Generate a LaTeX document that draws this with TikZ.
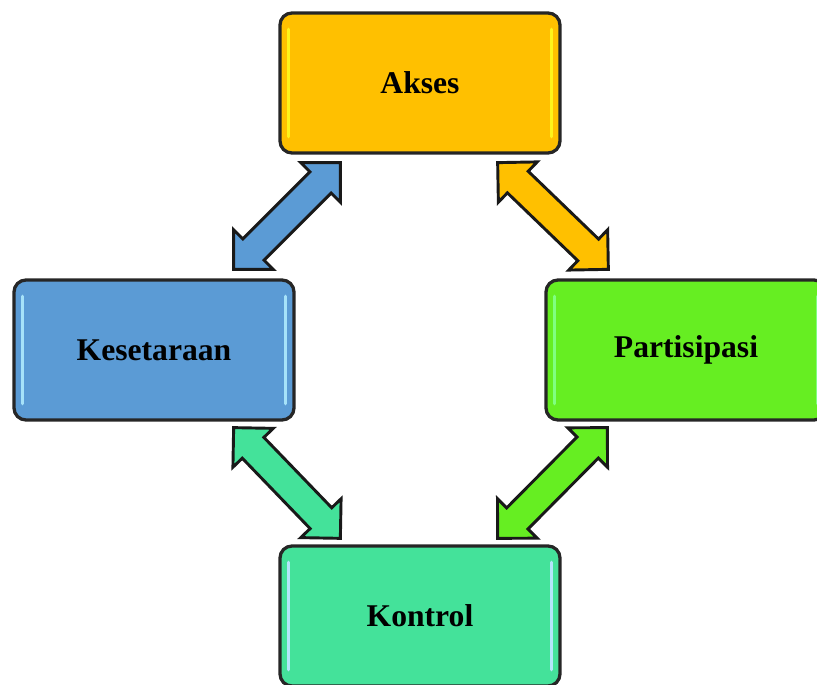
\documentclass[tikz,border=0pt]{standalone}
\usepackage{fontspec}
\setmainfont{Liberation Serif}
\usetikzlibrary{calc}

\definecolor{aksesc}{HTML}{FFC000}
\definecolor{setarac}{HTML}{5B9BD5}
\definecolor{partic}{HTML}{66EE22}
\definecolor{kontrolc}{HTML}{44E29A}

\tikzset{
  box/.style={draw=black!85, line width=2.8pt, rounded corners=0.36cm,
    minimum width=8.4cm, minimum height=4.2cm, inner sep=0pt,
    font=\fontsize{27}{31}\selectfont\bfseries},
  shine/.style={line width=3pt, line cap=round},
  arrowline/.style={draw=black!90, line width=2.5pt, line join=miter}
}

% double block arrow between two tips
\newcommand\dblarrow[3]{%
  \filldraw[arrowline, fill=#3] (#1)
    -- ($(#1)!0.84cm!(#2)!0.84cm!90:(#2)$)
    -- ($(#1)!0.84cm!(#2)!0.45cm!90:(#2)$)
    -- ($(#2)!0.84cm!(#1)!0.45cm!-90:(#1)$)
    -- ($(#2)!0.84cm!(#1)!0.84cm!-90:(#1)$)
    -- (#2)
    -- ($(#2)!0.84cm!(#1)!0.84cm!90:(#1)$)
    -- ($(#2)!0.84cm!(#1)!0.45cm!90:(#1)$)
    -- ($(#1)!0.84cm!(#2)!0.45cm!-90:(#2)$)
    -- ($(#1)!0.84cm!(#2)!0.84cm!-90:(#2)$)
    -- cycle;}

\begin{document}
\begin{tikzpicture}[x=0.03cm, y=0.03cm]
\clip (0,0) rectangle (817,685);

\node[box, fill=aksesc] (akses) at (420,602) {Akses};
\node[box, fill=setarac] (setara) at (154,335) {Kesetaraan};
\node[box, fill=partic] (parti) at (686,335) {Partisipasi};
\node[box, fill=kontrolc] (kontrol) at (420,69) {Kontrol};

% highlights on the box sides
\draw[shine, yellow!90!white] ([shift={(10,-18)}]akses.north west) -- ([shift={(10,18)}]akses.south west);
\draw[shine, yellow!90!white] ([shift={(-10,-18)}]akses.north east) -- ([shift={(-10,18)}]akses.south east);
\draw[shine, cyan!35!white] ([shift={(10,-18)}]setara.north west) -- ([shift={(10,18)}]setara.south west);
\draw[shine, cyan!35!white] ([shift={(-10,-18)}]setara.north east) -- ([shift={(-10,18)}]setara.south east);
\draw[shine, green!50!white] ([shift={(10,-18)}]parti.north west) -- ([shift={(10,18)}]parti.south west);
\draw[shine, green!50!white] ([shift={(-10,-18)}]parti.north east) -- ([shift={(-10,18)}]parti.south east);
\draw[shine, cyan!30!white] ([shift={(10,-18)}]kontrol.north west) -- ([shift={(10,18)}]kontrol.south west);
\draw[shine, cyan!30!white] ([shift={(-10,-18)}]kontrol.north east) -- ([shift={(-10,18)}]kontrol.south east);

% arrow tips
\coordinate (ak-se) at ([shift={(62,-8)}]akses.south west);
\coordinate (se-ak) at ([shift={(-62,9)}]setara.north east);
\coordinate (ak-pa) at ([shift={(-64,-8)}]akses.south east);
\coordinate (pa-ak) at ([shift={(64,9)}]parti.north west);
\coordinate (se-ko) at ([shift={(-62,-6)}]setara.south east);
\coordinate (ko-se) at ([shift={(62,6)}]kontrol.north west);
\coordinate (pa-ko) at ([shift={(63,-6)}]parti.south west);
\coordinate (ko-pa) at ([shift={(-64,6)}]kontrol.north east);

\dblarrow{ak-se}{se-ak}{setarac}
\dblarrow{ak-pa}{pa-ak}{aksesc}
\dblarrow{se-ko}{ko-se}{kontrolc}
\dblarrow{pa-ko}{ko-pa}{partic}
\end{tikzpicture}
\end{document}
